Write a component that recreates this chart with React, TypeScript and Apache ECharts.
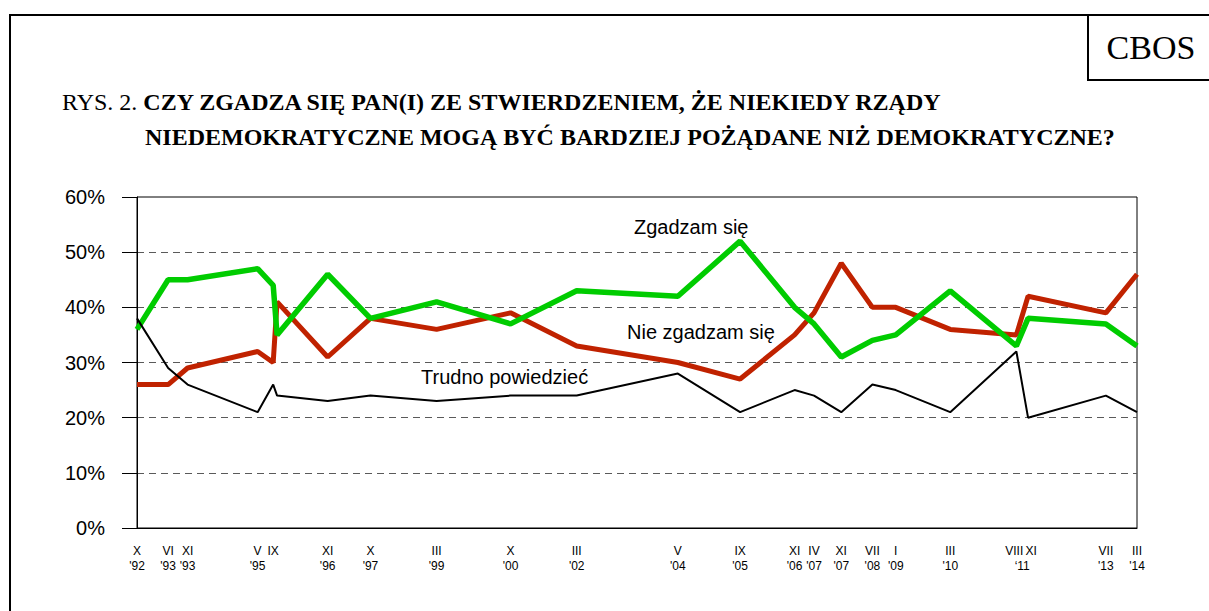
import React, { useEffect, useRef } from "react";
import * as echarts from "echarts";

// Survey dates (year, month) and axis tick labels
const surveyYear = [1992, 1993, 1993, 1995, 1995, 1995, 1996, 1997, 1999, 2000, 2002, 2004, 2005, 2006, 2007, 2007, 2008, 2009, 2010, 2011, 2011, 2013, 2014];
const surveyMonth = [10, 6, 11, 5, 9, 10, 11, 10, 3, 10, 3, 5, 9, 11, 4, 11, 7, 1, 3, 8, 11, 7, 3];
const monthTick = ["X", "VI", "XI", "V", "IX", "", "XI", "X", "III", "X", "III", "V", "IX", "XI", "IV", "XI", "VII", "I", "III", "VIII", "XI", "VII", "III"];
const yearTick = ["'92", "'93", "'93", "'95", "", "", "'96", "'97", "'99", "'00", "'02", "'04", "'05", "'06", "'07", "'07", "'08", "'09", "'10", "", "", "'13", "'14"];
const sharedYearTick = "\u201811"; // shared by VIII and XI 2011

// Series values (%)
const zgadzam = [36, 45, 45, 47, 44, 35, 46, 38, 41, 37, 43, 42, 52, 40, 37, 31, 34, 35, 43, 33, 38, 37, 33];
const nieZgadzam = [26, 26, 29, 32, 30, 41, 31, 38, 36, 39, 33, 30, 27, 35, 39, 48, 40, 40, 36, 35, 42, 39, 46];
const trudno = [38, 29, 26, 21, 26, 24, 23, 24, 23, 24, 24, 28, 21, 25, 24, 21, 26, 25, 21, 32, 20, 24, 21];

const yTicks = [0, 10, 20, 30, 40, 50, 60];

const SANS = "'Liberation Sans', Arial, sans-serif";
const SERIF = "'Liberation Serif', 'Times New Roman', serif";

export default function App() {
  const ref = useRef<HTMLDivElement>(null);

  useEffect(() => {
    if (!ref.current) return;
    const chart = echarts.init(ref.current, null, { renderer: "svg" });

    const dates = surveyYear.map((y, i) => y + (surveyMonth[i] - 1) / 12);
    // small label nudges (in years) where two month labels would collide
    const labelNudge: Record<number, number> = { 19: -0.045, 20: 0.065 };
    const tickVals: number[] = [];
    const tickText: Record<string, string> = {};
    dates.forEach((d, i) => {
      if (monthTick[i]) {
        const v = d + (labelNudge[i] ?? 0);
        tickVals.push(v);
        tickText[v.toFixed(4)] = monthTick[i] + "\n" + yearTick[i];
      }
    });
    const mid11 = (dates[19] + dates[20]) / 2;
    tickVals.push(mid11);
    tickText[mid11.toFixed(4)] = "\n" + sharedYearTick;

    const mk = (vals: number[]) => vals.map((v, i) => [dates[i], v]);

    chart.setOption({
      animation: false,
      backgroundColor: "#fff",
      grid: {
        left: 137,
        right: 72,
        top: 197,
        bottom: 83,
        show: true,
        borderColor: "#000",
        borderWidth: 1,
        backgroundColor: "transparent",
      },
      xAxis: {
        type: "value",
        min: dates[0],
        max: dates[dates.length - 1],
        axisLine: { show: true, lineStyle: { color: "#000", width: 1 } },
        axisTick: { show: false },
        splitLine: { show: false },
        axisLabel: {
          customValues: tickVals,
          formatter: (v: number) => tickText[v.toFixed(4)] ?? "",
          fontFamily: SANS,
          fontSize: 12,
          lineHeight: 15,
          color: "#000",
          margin: 15,
          verticalAlign: "top",
          showMinLabel: true,
          showMaxLabel: true,
        },
      },
      yAxis: {
        type: "value",
        min: yTicks[0],
        max: yTicks[yTicks.length - 1],
        interval: 10,
        axisLine: { show: true, lineStyle: { color: "#000", width: 1 } },
        axisTick: { show: true, length: 15, lineStyle: { color: "#000", width: 1 } },
        axisLabel: {
          formatter: "{value}%",
          fontFamily: SANS,
          fontSize: 20,
          color: "#000",
          margin: 32,
        },
        splitLine: {
          show: true,
          showMinLine: false,
          showMaxLine: false,
          lineStyle: { color: "#5a5a5a", type: [7, 5], width: 1 },
        },
      },
      series: [
        {
          name: "Nie zgadzam się",
          type: "line",
          data: mk(nieZgadzam),
          showSymbol: false,
          symbol: "none",
          lineStyle: { color: "#C02200", width: 5 },
          z: 3,
        },
        {
          name: "Zgadzam się",
          type: "line",
          data: mk(zgadzam),
          showSymbol: false,
          symbol: "none",
          lineStyle: { color: "#00CC00", width: 5.5 },
          z: 4,
        },
        {
          name: "Trudno powiedzieć",
          type: "line",
          data: mk(trudno),
          showSymbol: false,
          symbol: "none",
          lineStyle: { color: "#000", width: 2 },
          z: 5,
        },
      ],
      graphic: [
        {
          type: "rect",
          shape: { x: 10, y: 15, width: 1400, height: 800 },
          style: { fill: "none", stroke: "#000", lineWidth: 2 },
          silent: true,
        },
        {
          type: "rect",
          shape: { x: 1088, y: 15, width: 300, height: 65 },
          style: { fill: "none", stroke: "#000", lineWidth: 2 },
          silent: true,
        },
        {
          type: "text",
          x: 1151,
          y: 47,
          style: {
            text: "CBOS",
            fontFamily: SERIF,
            fontSize: 34,
            fill: "#000",
            align: "center",
            verticalAlign: "middle",
          },
        },
        {
          type: "text",
          x: 62,
          y: 102,
          style: {
            text: "{n|RYS. 2. }{b|CZY ZGADZA SIĘ PAN(I) ZE STWIERDZENIEM, ŻE NIEKIEDY RZĄDY}",
            verticalAlign: "middle",
            rich: {
              n: { fontFamily: SERIF, fontSize: 24, fontWeight: "normal", fill: "#000" },
              b: { fontFamily: SERIF, fontSize: 24, fontWeight: "bold", fill: "#000" },
            },
          },
        },
        {
          type: "text",
          x: 145,
          y: 137,
          style: {
            text: "NIEDEMOKRATYCZNE MOGĄ BYĆ BARDZIEJ POŻĄDANE NIŻ DEMOKRATYCZNE?",
            fontFamily: SERIF,
            fontSize: 24,
            fontWeight: "bold",
            fill: "#000",
            verticalAlign: "middle",
          },
        },
        {
          type: "text",
          x: 634,
          y: 227,
          style: { text: "Zgadzam się", fontFamily: SANS, fontSize: 20, fill: "#000", verticalAlign: "middle" },
        },
        {
          type: "text",
          x: 627,
          y: 332,
          style: { text: "Nie zgadzam się", fontFamily: SANS, fontSize: 20, fill: "#000", verticalAlign: "middle" },
        },
        {
          type: "text",
          x: 421,
          y: 377,
          style: { text: "Trudno powiedzieć", fontFamily: SANS, fontSize: 20, fill: "#000", verticalAlign: "middle" },
        },
      ],
    });

    return () => chart.dispose();
  }, []);

  return (
    <div
      ref={ref}
      style={{ position: "absolute", left: 0, top: 0, width: 1209, height: 611 }}
    />
  );
}
